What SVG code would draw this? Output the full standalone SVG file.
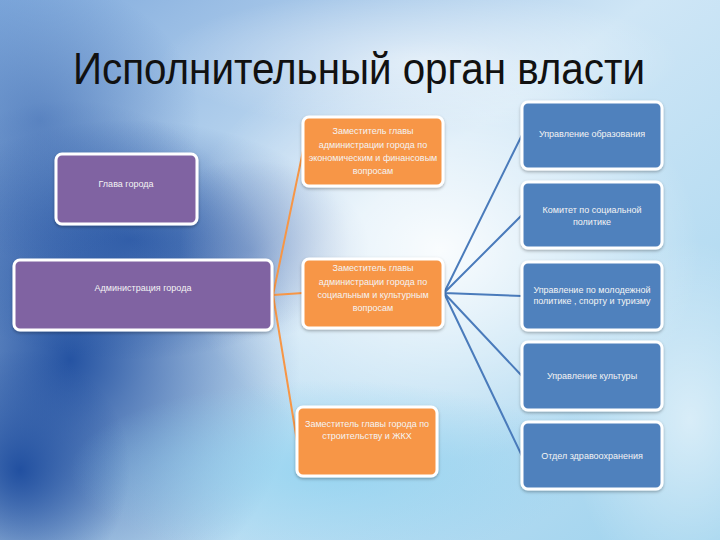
<svg xmlns="http://www.w3.org/2000/svg" width="720" height="540" viewBox="0 0 720 540">
<defs>
<linearGradient id="bg" x1="0" y1="0" x2="1" y2="1">
<stop offset="0" stop-color="#7fa9dc"/>
<stop offset="0.45" stop-color="#cfe6f6"/>
<stop offset="1" stop-color="#9fd3ee"/>
</linearGradient>
<radialGradient id="dark" cx="0.5" cy="0.5" r="0.5">
<stop offset="0" stop-color="#1d4c9e" stop-opacity="0.95"/>
<stop offset="1" stop-color="#1d4c9e" stop-opacity="0"/>
</radialGradient>
<radialGradient id="light" cx="0.5" cy="0.5" r="0.5">
<stop offset="0" stop-color="#ffffff" stop-opacity="0.9"/>
<stop offset="1" stop-color="#ffffff" stop-opacity="0"/>
</radialGradient>
<radialGradient id="cyan" cx="0.5" cy="0.5" r="0.5">
<stop offset="0" stop-color="#8fd2f0" stop-opacity="0.8"/>
<stop offset="1" stop-color="#8fd2f0" stop-opacity="0"/>
</radialGradient>
<filter id="sh" x="-10%" y="-10%" width="120%" height="130%">
<feDropShadow dx="0" dy="1.5" stdDeviation="1.5" flood-color="#000" flood-opacity="0.3"/>
</filter>
</defs>
<style>
.box{stroke:#ffffff;stroke-width:3;filter:url(#sh)}
.pur{fill:#8064a2}
.org{fill:#f79646}
.blu{fill:#4f81bd}
.t{font-family:"Liberation Sans",Arial,sans-serif;font-size:9px;fill:#f4f4f4;text-anchor:middle}
.ol{stroke:#f79646;stroke-width:2;fill:none}
.bl{stroke:#4a7bbb;stroke-width:2;fill:none}
.title{font-family:"Liberation Sans",Arial,sans-serif;font-size:44px;fill:#111111}
</style>
<rect width="720" height="540" fill="url(#bg)"/>
<ellipse cx="70" cy="360" rx="230" ry="260" fill="url(#dark)"/>
<ellipse cx="130" cy="240" rx="220" ry="120" fill="url(#dark)" opacity="0.8"/>
<ellipse cx="20" cy="470" rx="110" ry="120" fill="url(#dark)"/>
<ellipse cx="40" cy="120" rx="160" ry="140" fill="url(#dark)" opacity="0.5"/>
<ellipse cx="250" cy="250" rx="120" ry="90" fill="url(#dark)" opacity="0.5"/>
<ellipse cx="440" cy="250" rx="260" ry="210" fill="url(#light)"/>
<ellipse cx="330" cy="470" rx="260" ry="90" fill="url(#cyan)"/>
<ellipse cx="690" cy="420" rx="120" ry="180" fill="url(#light)" opacity="0.6"/>
<ellipse cx="420" cy="60" rx="260" ry="70" fill="url(#light)" opacity="0.6"/>
<text class="title" x="73" y="84" textLength="572" lengthAdjust="spacingAndGlyphs">Исполнительный орган власти</text>
<g id="connectors">
<path class="ol" d="M273 295 L303 151 M273 295 L303 293 M273 295 L297 441"/>
<path class="bl" d="M444 293 L522 135 M444 293 L522 215 M444 293 L522 296 M444 293 L522 376 M444 293 L522 456"/>
</g>
<g id="glava">
<rect class="box pur" x="56" y="154" width="141" height="70" rx="6"/>
<text class="t" x="126" y="187">Глава города</text>
</g>
<g id="admin">
<rect class="box pur" x="14" y="260" width="258" height="70" rx="6"/>
<text class="t" x="143" y="291">Администрация города</text>
</g>
<g id="zam1">
<rect class="box org" x="303" y="117" width="140" height="69" rx="6"/>
<text class="t" x="373" y="134">Заместитель главы</text>
<text class="t" x="373" y="148">администрации города  по</text>
<text class="t" x="373" y="161">экономическим и финансовым</text>
<text class="t" x="373" y="174">вопросам</text>
</g>
<g id="zam2">
<rect class="box org" x="303" y="259" width="140" height="69" rx="6"/>
<text class="t" x="373" y="271">Заместитель главы</text>
<text class="t" x="373" y="285">администрации города по</text>
<text class="t" x="373" y="298">социальным и культурным</text>
<text class="t" x="373" y="311">вопросам</text>
</g>
<g id="zam3">
<rect class="box org" x="297" y="407" width="140" height="69" rx="6"/>
<text class="t" x="367" y="427">Заместитель главы города  по</text>
<text class="t" x="367" y="439">строительству и ЖКХ</text>
</g>
<g id="b1">
<rect class="box blu" x="522" y="102" width="140" height="67" rx="6"/>
<text class="t" x="592" y="137">Управление образования</text>
</g>
<g id="b2">
<rect class="box blu" x="522" y="182" width="140" height="66" rx="6"/>
<text class="t" x="592" y="213">Комитет по социальной</text>
<text class="t" x="592" y="225">политике</text>
</g>
<g id="b3">
<rect class="box blu" x="522" y="262" width="140" height="68" rx="6"/>
<text class="t" x="592" y="293">Управление по молодежной</text>
<text class="t" x="592" y="304">политике , спорту и туризму</text>
</g>
<g id="b4">
<rect class="box blu" x="522" y="342" width="140" height="68" rx="6"/>
<text class="t" x="592" y="379">Управление культуры</text>
</g>
<g id="b5">
<rect class="box blu" x="522" y="422" width="140" height="67" rx="6"/>
<text class="t" x="592" y="459">Отдел здравоохранения</text>
</g>
</svg>
